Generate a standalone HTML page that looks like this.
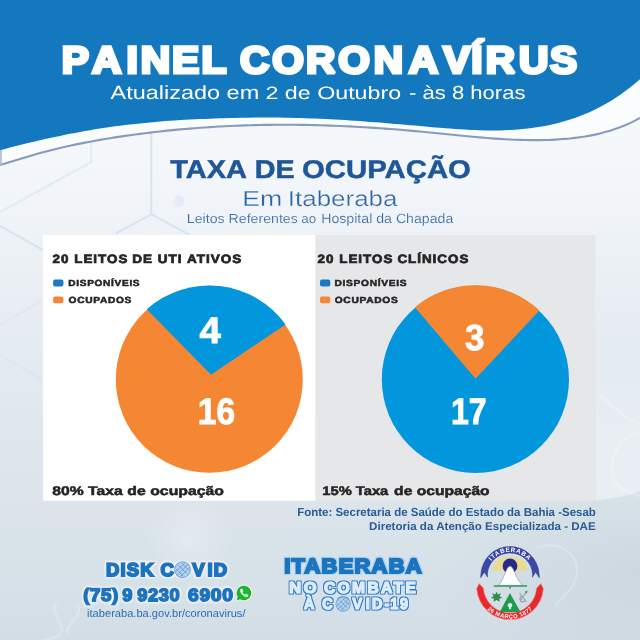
<!DOCTYPE html>
<html lang="pt-BR">
<head>
<meta charset="utf-8">
<title>Painel Coronavírus - Itaberaba</title>
<style>
html,body{margin:0;padding:0;width:640px;height:640px;overflow:hidden;background:#dfe6ee;}
svg{display:block;position:absolute;left:0;top:0;}
text{font-family:"Liberation Sans","DejaVu Sans",sans-serif;text-rendering:geometricPrecision;}
.hv{font-family:"DejaVu Sans","Liberation Sans",sans-serif;font-weight:bold;}
.b{font-weight:bold;}
</style>
</head>
<body>
<svg width="640" height="640" viewBox="0 0 640 640">
<defs>
<linearGradient id="bg" x1="0" y1="0" x2="0" y2="1">
<stop offset="0.2" stop-color="#f5f8fb"/>
<stop offset="0.31" stop-color="#f1f5f9"/>
<stop offset="0.47" stop-color="#e8eef3"/>
<stop offset="0.65" stop-color="#e0e8ee"/>
<stop offset="0.8" stop-color="#dae4ea"/>
<stop offset="0.96" stop-color="#d4dfe7"/>
<stop offset="1" stop-color="#d2dde5"/>
</linearGradient>
<radialGradient id="lft" cx="0.5" cy="0.5" r="0.5">
<stop offset="0" stop-color="#b4c2d0" stop-opacity="0.3"/>
<stop offset="1" stop-color="#b9c5d2" stop-opacity="0"/>
</radialGradient>
<linearGradient id="rfade" x1="0" y1="0" x2="0" y2="1">
<stop offset="0" stop-color="#eef3f7" stop-opacity="0"/>
<stop offset="0.6" stop-color="#eef3f7" stop-opacity="0.6"/>
<stop offset="1" stop-color="#eef3f7" stop-opacity="0.75"/>
</linearGradient>
<radialGradient id="rgt" cx="0.5" cy="0.5" r="0.5">
<stop offset="0" stop-color="#ffffff" stop-opacity="0.3"/>
<stop offset="1" stop-color="#ffffff" stop-opacity="0"/>
</radialGradient>
<filter id="glow" x="-10%" y="-30%" width="120%" height="160%">
<feMorphology in="SourceAlpha" operator="dilate" radius="1.4" result="d"/>
<feGaussianBlur in="d" stdDeviation="0.9" result="bl"/>
<feFlood flood-color="#f4fbff" flood-opacity="1"/>
<feComposite in2="bl" operator="in" result="g"/>
<feMerge><feMergeNode in="g"/><feMergeNode in="SourceGraphic"/></feMerge>
</filter>
<filter id="glowb" x="-10%" y="-30%" width="120%" height="160%">
<feMorphology in="SourceAlpha" operator="dilate" radius="0.6" result="d"/>
<feGaussianBlur in="d" stdDeviation="0.7" result="bl"/>
<feFlood flood-color="#a6d4f7" flood-opacity="0.8"/>
<feComposite in2="bl" operator="in" result="g"/>
<feMerge><feMergeNode in="g"/><feMergeNode in="SourceGraphic"/></feMerge>
</filter>
<filter id="outl" x="-10%" y="-30%" width="120%" height="160%">
<feMorphology in="SourceAlpha" operator="dilate" radius="1" result="d"/>
<feFlood flood-color="#2a7bcb"/>
<feComposite in2="d" operator="in" result="g"/>
<feMerge><feMergeNode in="g"/><feMergeNode in="SourceGraphic"/></feMerge>
</filter>
<g id="virus">
<circle r="8.3" fill="#b4d0ec"/>
<g fill="none" stroke="#4a8dcd" stroke-width="0.65">
<circle r="7.9"/>
<path d="M-5.6,5.6 L5.6,-5.6 M-6.8,2.2 L2.2,-6.8 M-2.2,6.8 L6.8,-2.2 M-4,-4.4 L4.4,4 M-6.4,-0.6 L0.6,6.4 M-0.6,-6.4 L6.4,0.6"/>
</g>
</g>
</defs>
<rect width="640" height="640" fill="url(#bg)"/>
<ellipse cx="650" cy="570" rx="230" ry="110" fill="url(#lft)"/>
<path d="M596,340 H640 V491 C626,496 612,499 596,500.5 Z" fill="url(#rfade)"/>
<g fill="none" stroke="#d3e1ee" stroke-width="2.2" opacity="0.8">
<path d="M151.3,128 V214.4 L115.6,233.5 M151.3,214.4 L190,235"/>
<path d="M91.3,142 V162 L0,212" opacity="0.6"/>
<path d="M0,226 L43,250" />
<path d="M43,300 L0,325 M0,355 L43,380" opacity="0.5"/>
</g>
<circle cx="178.8" cy="201.3" r="6" fill="#e2eaf4" opacity="0.8"/>
<g fill="none" stroke="#ffffff" stroke-linecap="round" opacity="0.22">
<path d="M56,603 C50,614 63,622 62,631 C61,637 50,639 42,641" stroke-width="2.6"/>
<path d="M78,605 C83,615 68,622 67,633" stroke-width="2.6"/>
<path d="M538,548 C556,540 578,552 577,572 C576,590 560,596 556,606" stroke-width="2.4"/>
<path d="M600,396 C612,404 622,418 640,424 M640,432 C622,436 612,452 612,470 C612,482 622,492 640,496" stroke-width="3"/>
</g>
<circle cx="190" cy="538" r="46" fill="url(#rgt)"/>

<!-- header -->
<path d="M640,0 H0 L0,165.1 L5,163.6 L10,162.0 L15,160.4 L20,158.9 L25,157.4 L30,155.9 L35,154.5 L40,153.1 L45,151.7 L50,150.4 L55,149.2 L60,148.0 L65,146.8 L70,145.7 L75,144.6 L80,143.6 L85,142.6 L90,141.7 L95,140.7 L100,139.9 L105,139.0 L110,138.2 L115,137.4 L120,136.6 L125,135.9 L130,135.2 L135,134.5 L140,133.9 L145,133.2 L150,132.6 L155,132.0 L160,131.5 L165,130.9 L170,130.4 L175,129.9 L180,129.4 L185,129.0 L190,128.6 L195,128.2 L200,127.8 L205,127.5 L210,127.1 L215,126.8 L220,126.5 L225,126.3 L230,126.0 L235,125.8 L240,125.6 L245,125.4 L250,125.3 L255,125.1 L260,125.0 L265,124.9 L270,124.9 L275,124.8 L280,124.8 L285,124.8 L290,124.8 L295,124.8 L300,124.9 L305,124.9 L310,125.0 L315,125.1 L320,125.3 L325,125.4 L330,125.6 L335,125.8 L340,126.0 L345,126.2 L350,126.4 L355,126.7 L360,127.0 L365,127.2 L370,127.6 L375,127.9 L380,128.2 L385,128.6 L390,129.0 L395,129.3 L400,129.8 L405,130.2 L410,130.6 L415,131.1 L420,131.5 L425,132.0 L430,132.5 L435,133.0 L440,133.5 L445,134.0 L450,134.5 L455,135.0 L460,135.5 L465,136.0 L470,136.5 L475,137.0 L480,137.4 L485,137.8 L490,138.2 L495,138.6 L500,138.9 L505,139.2 L510,139.5 L515,139.7 L520,139.9 L525,140.0 L530,140.1 L535,140.1 L540,140.1 L545,140.0 L550,139.9 L555,139.6 L560,139.3 L565,138.9 L570,138.5 L575,137.9 L580,137.2 L585,136.5 L590,135.6 L595,134.6 L600,133.4 L605,132.1 L610,130.7 L615,129.1 L620,127.3 L625,125.3 L630,123.1 L635,120.6 L640,117.8 Z" fill="#fbfcfe"/>
<path d="M0,165.1 L5,163.6 L10,162.0 L15,160.4 L20,158.9 L25,157.4 L30,155.9 L35,154.5 L40,153.1 L45,151.7 L50,150.4 L55,149.2 L60,148.0 L65,146.8 L70,145.7 L75,144.6 L80,143.6 L85,142.6 L90,141.7 L95,140.7 L100,139.9 L105,139.0 L110,138.2 L115,137.4 L120,136.6 L125,135.9 L130,135.2 L135,134.5 L140,133.9 L145,133.2 L150,132.6 L155,132.0 L160,131.5 L165,130.9 L170,130.4 L175,129.9 L180,129.4 L185,129.0 L190,128.6 L195,128.2 L200,127.8 L205,127.5 L210,127.1 L215,126.8 L220,126.5 L225,126.3 L230,126.0 L235,125.8 L240,125.6 L245,125.4 L250,125.3 L255,125.1 L260,125.0 L265,124.9 L270,124.9 L275,124.8 L280,124.8 L285,124.8 L290,124.8 L295,124.8 L300,124.9 L305,124.9 L310,125.0 L315,125.1 L320,125.3 L325,125.4 L330,125.6 L335,125.8 L340,126.0 L345,126.2 L350,126.4 L355,126.7 L360,127.0 L365,127.2 L370,127.6 L375,127.9 L380,128.2 L385,128.6 L390,129.0 L395,129.3 L400,129.8 L405,130.2 L410,130.6 L415,131.1 L420,131.5 L425,132.0 L430,132.5 L435,133.0 L440,133.5 L445,134.0 L450,134.5 L455,135.0 L460,135.5 L465,136.0 L470,136.5 L475,137.0 L480,137.4 L485,137.8 L490,138.2 L495,138.6 L500,138.9 L505,139.2 L510,139.5 L515,139.7 L520,139.9 L525,140.0 L530,140.1 L535,140.1 L540,140.1 L545,140.0 L550,139.9 L555,139.6 L560,139.3 L565,138.9 L570,138.5 L575,137.9 L580,137.2 L585,136.5 L590,135.6 L595,134.6 L600,133.4 L605,132.1 L610,130.7 L615,129.1 L620,127.3 L625,125.3 L630,123.1 L635,120.6 L640,117.8" fill="none" stroke="#889cba" stroke-width="2.1"/>
<path d="M1,150 V165" stroke="#a9b9cf" stroke-width="1.6" fill="none"/>
<path d="M640,0 H0 L0,150.3 L5,148.9 L10,147.6 L15,146.3 L20,145.1 L25,143.8 L30,142.6 L35,141.4 L40,140.2 L45,139.1 L50,138.0 L55,136.9 L60,135.9 L65,134.8 L70,133.8 L75,132.9 L80,131.9 L85,131.0 L90,130.2 L95,129.3 L100,128.5 L105,127.8 L110,127.0 L115,126.3 L120,125.7 L125,125.1 L130,124.5 L135,123.9 L140,123.4 L145,122.9 L150,122.4 L155,121.9 L160,121.5 L165,121.1 L170,120.8 L175,120.4 L180,120.1 L185,119.8 L190,119.5 L195,119.3 L200,119.1 L205,118.9 L210,118.7 L215,118.5 L220,118.3 L225,118.2 L230,118.0 L235,117.9 L240,117.8 L245,117.7 L250,117.7 L255,117.6 L260,117.6 L265,117.6 L270,117.6 L275,117.6 L280,117.6 L285,117.7 L290,117.8 L295,117.9 L300,118.0 L305,118.2 L310,118.4 L315,118.6 L320,118.8 L325,119.0 L330,119.3 L335,119.5 L340,119.8 L345,120.1 L350,120.4 L355,120.8 L360,121.1 L365,121.5 L370,121.9 L375,122.2 L380,122.6 L385,123.0 L390,123.5 L395,123.9 L400,124.3 L405,124.7 L410,125.2 L415,125.6 L420,126.1 L425,126.5 L430,127.0 L435,127.4 L440,127.8 L445,128.2 L450,128.6 L455,129.0 L460,129.3 L465,129.6 L470,129.9 L475,130.1 L480,130.3 L485,130.4 L490,130.4 L495,130.4 L500,130.4 L505,130.2 L510,130.0 L515,129.7 L520,129.3 L525,128.8 L530,128.3 L535,127.6 L540,126.8 L545,125.9 L550,124.9 L555,123.8 L560,122.5 L565,121.1 L570,119.6 L575,117.9 L580,116.1 L585,114.1 L590,111.9 L595,109.5 L600,107.0 L605,104.3 L610,101.4 L615,98.2 L620,94.9 L625,91.3 L630,87.5 L635,83.5 L640,79.3 Z" fill="#1478be"/>
<text class="b" transform="translate(63.00,0) scale(1.0752,1)" x="-1.18 27.02 59.14 72.34 101.45 128.87" y="73.10" font-size="37.94" fill="#fff" stroke="#fff" stroke-width="3.2" stroke-linejoin="miter" stroke-miterlimit="2">PAINEL</text>
<text class="b" transform="translate(240.00,0) scale(1.0713,1)" x="0.04 30.07 61.54 91.68 124.88 157.43 189.79 215.98 229.33 260.52 289.44" y="73.10" font-size="37.94" fill="#fff" stroke="#fff" stroke-width="3.2" stroke-linejoin="miter" stroke-miterlimit="2">CORONAVÍRUS</text>
<text x="110.55" y="99.22" font-size="19.11" fill="#fff" textLength="148.67" lengthAdjust="spacingAndGlyphs">Atualizado em</text>
<text x="265.48" y="99.00" font-size="17.92" fill="#fff" textLength="135.63" lengthAdjust="spacingAndGlyphs">2 de Outubro</text>
<text x="409.08" y="98.99" font-size="18.83" fill="#fff" textLength="116.39" lengthAdjust="spacingAndGlyphs">- às 8 horas</text>
<!-- section title -->
<text class="b" x="170.22" y="178.15" font-size="25.71" fill="#1e5799" stroke="#1e5799" stroke-width="0.5" stroke-linejoin="miter" textLength="76.69" lengthAdjust="spacingAndGlyphs">TAXA</text>
<text class="b" x="254.67" y="178.15" font-size="25.78" fill="#1e5799" stroke="#1e5799" stroke-width="0.5" stroke-linejoin="miter" textLength="39.88" lengthAdjust="spacingAndGlyphs">DE</text>
<text class="b" x="302.07" y="178.15" font-size="25.61" fill="#1e5799" stroke="#1e5799" stroke-width="0.5" stroke-linejoin="miter" textLength="168.88" lengthAdjust="spacingAndGlyphs">OCUPAÇÃO</text>
<text x="242.28" y="206.30" font-size="21.72" fill="#2b65a3" textLength="40.01" lengthAdjust="spacingAndGlyphs" stroke="#f3f6f9" stroke-width="0.3">Em</text>
<text x="287.85" y="206.30" font-size="21.70" fill="#2b65a3" textLength="109.59" lengthAdjust="spacingAndGlyphs" stroke="#f3f6f9" stroke-width="0.3">Itaberaba</text>
<text x="186.83" y="222.90" font-size="13.17" fill="#3f6fa5" textLength="110.97" lengthAdjust="spacingAndGlyphs" stroke="#f2f5f8" stroke-width="0.12">Leitos Referentes</text>
<text x="301.35" y="222.90" font-size="12.93" fill="#3f6fa5" textLength="15.02" lengthAdjust="spacingAndGlyphs" stroke="#f2f5f8" stroke-width="0.12">ao</text>
<text x="321.17" y="223.01" font-size="13.44" fill="#3f6fa5" textLength="132.19" lengthAdjust="spacingAndGlyphs" stroke="#f2f5f8" stroke-width="0.12">Hospital da Chapada</text>
<!-- panels -->
<rect x="43" y="235" width="272.5" height="265.8" fill="#ffffff"/>
<rect x="315.5" y="235" width="280" height="265.8" fill="#e6e7e9"/>
<!-- panel 1 -->
<rect x="53.1" y="279.6" width="10.3" height="6.8" rx="2" fill="#177bc8"/>
<rect x="53.1" y="296.4" width="10.3" height="6.8" rx="2" fill="#f58634"/>
<circle cx="209.3" cy="379.35" r="93.5" fill="#f58634"/>
<path d="M211,374.8 L146.8,309.3 A93.9,93.9 0 0 1 285.5,324.4 Z" fill="#0297dd"/>
<text class="b" letter-spacing="0.9" x="52.63" y="262.65" font-size="12.09" fill="#262324" stroke="#262324" stroke-width="0.7" stroke-linejoin="miter" textLength="75.69" lengthAdjust="spacingAndGlyphs">20 LEITOS</text>
<text class="b" letter-spacing="0.9" x="132.19" y="262.65" font-size="12.09" fill="#262324" stroke="#262324" stroke-width="0.7" stroke-linejoin="miter" textLength="110.20" lengthAdjust="spacingAndGlyphs">DE UTI ATIVOS</text>
<text class="b" letter-spacing="0.6" x="68.27" y="286.15" font-size="8.84" fill="#262324" stroke="#262324" stroke-width="0.5" stroke-linejoin="miter" textLength="72.04" lengthAdjust="spacingAndGlyphs">DISPONÍVEIS</text>
<text class="b" letter-spacing="0.6" x="68.59" y="302.95" font-size="8.84" fill="#262324" stroke="#262324" stroke-width="0.5" stroke-linejoin="miter" textLength="63.47" lengthAdjust="spacingAndGlyphs">OCUPADOS</text>
<text class="b" x="199.62" y="342.61" font-size="36.90" fill="#fff" stroke="#fff" stroke-width="0.9" stroke-linejoin="miter" textLength="21.36" lengthAdjust="spacingAndGlyphs">4</text>
<text class="b" x="197.68" y="423.51" font-size="36.93" fill="#fff" stroke="#fff" stroke-width="0.9" stroke-linejoin="miter" textLength="37.44" lengthAdjust="spacingAndGlyphs">16</text>
<text class="b" x="52.32" y="494.75" font-size="12.55" fill="#262324" stroke="#262324" stroke-width="0.5" stroke-linejoin="miter" textLength="70.40" lengthAdjust="spacingAndGlyphs">80% Taxa</text>
<text class="b" x="127.38" y="494.75" font-size="12.56" fill="#262324" stroke="#262324" stroke-width="0.5" stroke-linejoin="miter" textLength="96.56" lengthAdjust="spacingAndGlyphs">de ocupação</text>
<!-- panel 2 -->
<rect x="320" y="279.6" width="10.3" height="6.8" rx="2" fill="#177bc8"/>
<rect x="320" y="296.4" width="10.3" height="6.8" rx="2" fill="#f58634"/>
<circle cx="475.4" cy="379.35" r="93.6" fill="#0297dd"/>
<path d="M475.5,378.7 L415.0,307.3 A94.0,94.0 0 0 1 539.4,310.5 Z" fill="#f58634"/>
<text class="b" letter-spacing="0.9" x="317.63" y="262.65" font-size="12.09" fill="#262324" stroke="#262324" stroke-width="0.7" stroke-linejoin="miter" textLength="75.69" lengthAdjust="spacingAndGlyphs">20 LEITOS</text>
<text class="b" letter-spacing="0.9" x="397.41" y="262.65" font-size="12.09" fill="#262324" stroke="#262324" stroke-width="0.7" stroke-linejoin="miter" textLength="71.93" lengthAdjust="spacingAndGlyphs">CLÍNICOS</text>
<text class="b" letter-spacing="0.6" x="334.51" y="286.15" font-size="8.84" fill="#262324" stroke="#262324" stroke-width="0.5" stroke-linejoin="miter" textLength="72.74" lengthAdjust="spacingAndGlyphs">DISPONÍVEIS</text>
<text class="b" letter-spacing="0.6" x="334.72" y="302.95" font-size="8.84" fill="#262324" stroke="#262324" stroke-width="0.5" stroke-linejoin="miter" textLength="63.67" lengthAdjust="spacingAndGlyphs">OCUPADOS</text>
<text class="b" x="465.00" y="350.47" font-size="36.34" fill="#fff" stroke="#fff" stroke-width="0.9" stroke-linejoin="miter" textLength="19.52" lengthAdjust="spacingAndGlyphs">3</text>
<text class="b" x="450.90" y="423.51" font-size="36.93" fill="#fff" stroke="#fff" stroke-width="0.9" stroke-linejoin="miter" textLength="35.69" lengthAdjust="spacingAndGlyphs">17</text>
<text class="b" x="322.38" y="494.75" font-size="12.53" fill="#262324" stroke="#262324" stroke-width="0.5" stroke-linejoin="miter" textLength="65.84" lengthAdjust="spacingAndGlyphs">15% Taxa</text>
<text class="b" x="394.13" y="494.75" font-size="12.58" fill="#262324" stroke="#262324" stroke-width="0.5" stroke-linejoin="miter" textLength="95.55" lengthAdjust="spacingAndGlyphs">de ocupação</text>
<!-- source -->
<text class="b" x="297.20" y="515.66" font-size="11.72" fill="#295b96" textLength="298.63" lengthAdjust="spacingAndGlyphs">Fonte: Secretaria de Saúde do Estado da Bahia -Sesab</text>
<text class="b" x="369.07" y="530.20" font-size="11.34" fill="#295b96" textLength="226.62" lengthAdjust="spacingAndGlyphs">Diretoria da Atenção Especializada - DAE</text>
<!-- footer: disk covid -->
<text class="b" letter-spacing="1.1" x="105.97" y="575.60" font-size="18.55" fill="#1a74be" stroke="#1a74be" stroke-width="2.1" stroke-linejoin="miter" textLength="48.80" lengthAdjust="spacingAndGlyphs" filter="url(#glow)">DISK</text>
<text class="b" letter-spacing="0.6" x="83.20" y="600.50" font-size="17.84" fill="#1a74be" stroke="#1a74be" stroke-width="1.8" stroke-linejoin="miter" textLength="35.68" lengthAdjust="spacingAndGlyphs" filter="url(#glow)">(75)</text>
<text class="b" x="122.24" y="600.50" font-size="17.84" fill="#1a74be" stroke="#1a74be" stroke-width="1.8" stroke-linejoin="miter" textLength="10.16" lengthAdjust="spacingAndGlyphs" filter="url(#glow)">9</text>
<text class="b" letter-spacing="0.6" x="137.23" y="600.50" font-size="17.84" fill="#1a74be" stroke="#1a74be" stroke-width="1.8" stroke-linejoin="miter" textLength="43.13" lengthAdjust="spacingAndGlyphs" filter="url(#glow)">9230</text>
<text class="b" letter-spacing="0.6" x="188.06" y="600.50" font-size="17.84" fill="#1a74be" stroke="#1a74be" stroke-width="1.8" stroke-linejoin="miter" textLength="45.49" lengthAdjust="spacingAndGlyphs" filter="url(#glow)">6900</text>
<text x="87.06" y="616.82" font-size="11.13" fill="#2a6db5" textLength="158.44" lengthAdjust="spacingAndGlyphs">itaberaba.ba.gov.br/coronavirus/</text>
<text class="b" transform="translate(160.40,0) scale(1.0118,1)" x="-0.02 14.73 31.55 46.58 52.71" y="575.55" font-size="18.31" fill="#1a74be" stroke="#1a74be" stroke-width="2.1" stroke-linejoin="miter" stroke-miterlimit="2" filter="url(#glow)">COVID</text>
<use href="#virus" x="182.5" y="569.7"/>
<g transform="translate(244,593)">
<path d="M0,-8.200 A8.200,8.200 0 1 1 -4.300,7 L-8.400,8.300 L-7.100,4.200 A8.200,8.200 0 0 1 0,-8.200 Z" fill="#e9fbe6" opacity="0.900"/>
<path d="M0,-7.300 A7.300,7.300 0 1 1 -3.900,6.200 L-7.200,7.200 L-6.200,3.900 A7.300,7.300 0 0 1 0,-7.300 Z" fill="#23a82f"/>
<circle r="6.300" fill="#1fb52f"/>
<path d="M-3.300,-3.700 C-4.200,-2.800 -3.200,0 -1.500,1.700 C0.200,3.400 2.900,4.300 3.800,3.400 C4.400,2.700 4.200,2.200 3.500,1.800 L2.300,1.200 C1.800,1 1.400,1.200 1.100,1.600 C0.900,1.900 0.600,1.900 0.200,1.700 C-0.700,1.200 -1.200,0.600 -1.600,-0.200 C-1.800,-0.600 -1.700,-0.900 -1.400,-1.100 C-1,-1.400 -0.900,-1.800 -1.100,-2.300 L-1.700,-3.500 C-2.100,-4.200 -2.700,-4.300 -3.300,-3.700 Z" fill="#f4fff0" stroke="#f4fff0" stroke-width="0.500"/>
</g>

<!-- footer: itaberaba no combate -->
<text class="b" letter-spacing="1.2" x="284.24" y="573.40" font-size="20.72" fill="#1a74be" stroke="#1a74be" stroke-width="2.2" stroke-linejoin="miter" textLength="138.52" lengthAdjust="spacingAndGlyphs" filter="url(#glowb)">ITABERABA</text>
<text class="b" letter-spacing="2.4" x="289.39" y="592.51" font-size="15.71" fill="#dcedfb" stroke="#dcedfb" stroke-width="1.2" stroke-linejoin="round" textLength="29.64" lengthAdjust="spacingAndGlyphs" filter="url(#outl)">NO</text>
<text class="b" letter-spacing="2.4" x="323.93" y="592.51" font-size="15.71" fill="#dcedfb" stroke="#dcedfb" stroke-width="1.2" stroke-linejoin="round" textLength="94.38" lengthAdjust="spacingAndGlyphs" filter="url(#outl)">COMBATE</text>
<text class="b" transform="translate(301.50,0) scale(0.9156,1)" x="2.75 14.09 22.76 39.23 55.66 70.13 77.09 90.78 96.83 107.58" y="609.00" font-size="15.70" fill="#dcedfb" stroke="#dcedfb" stroke-width="1.2" stroke-linejoin="round" stroke-miterlimit="2" filter="url(#outl)">À COVID-19</text>
<use href="#virus" transform="translate(343.1,604.2) scale(0.9)"/>
<!-- footer: coat of arms -->
<g id="arms">
<path d="M493,570.5 A17,13.6 0 0 1 527,570.5 Z" fill="#e9da8c"/>
<path d="M490.5,569 L495,566 M492,562 L497,561.5 M497,556.5 L500,559.5 M523,556.5 L520,559.5 M528,562 L523,561.5 M529.5,569 L525,566" stroke="#e9da8c" stroke-width="1.2" fill="none"/>
<path d="M480.67,577.65 L480.94,574.08 A29.1,29.1 0 0 1 539.06,574.08 L539.33,577.65 L535.65,572.00 L532.35,577.16 L532.67,574.41 A22.7,22.7 0 0 0 487.33,574.41 L487.65,577.16 L484.35,572.00 Z" fill="#3c48a7" stroke="#2a2e85" stroke-width="0.5" stroke-linejoin="round"/>
<path id="arc1" d="M486.20,575.60 A23.8,23.8 0 0 1 533.80,575.60" fill="none"/>
<text font-size="6.2" class="b" fill="#ffffff" letter-spacing="0.75" text-anchor="middle"><textPath href="#arc1" startOffset="50%">ITABERABA</textPath></text>
<circle cx="510" cy="566" r="7.4" fill="#27298c"/>
<path d="M498.6,585.3 C502,581.5 504.5,575 506.6,569.6 Q510,562.6 513.4,569.6 C515.5,575 518.5,581.5 522.6,585.3 Z" fill="#ffffff" stroke="#7a828e" stroke-width="0.5"/>
<path d="M493.9,586 H527.1" stroke="#2f9a55" stroke-width="1.4" fill="none"/>
<path d="M508.8,587 L510,589 L511.200,587 Z" fill="#6b7380"/>
<path d="M476.58,588.54 A33.5,33.5 0 0 0 543.42,588.54 L540.93,583.49 L536.54,588.06 A26.6,26.6 0 0 1 483.46,588.06 L479.07,583.49 Z" fill="#e5292d" stroke="#f3a09a" stroke-width="0.6" stroke-linejoin="round"/>
<path id="arc2" d="M477.70,586.20 A32.3,32.3 0 0 0 542.30,586.20" fill="none"/>
<text font-size="5.8" class="b" fill="#ffffff" letter-spacing="0.45" text-anchor="middle"><textPath href="#arc2" startOffset="50%">26 MARÇO 1877</textPath></text>
<path d="M509.9,593 L520.6,611.9 H499.8 Z" fill="#1e9b4c"/>
<circle cx="510" cy="605.3" r="2.2" fill="#e9f3ea"/>
<path d="M509,607 h2 v2.2 h-2 Z" fill="#e9f3ea"/>
<path d="M496.6,591.8 l1.4,2.8 l3,-1.4 l-1.4,3 l3,1.7 l-3.4,0.6 l0.5,3.300 l-3.1,-1.900 l-3.1,1.900 l0.500,-3.300 l-3.400,-0.600 l3,-1.700 l-1.400,-3 l3,1.400 Z" fill="#2c8f4b"/>
<path d="M519.500,593 l7,9 M526,592.500 l-6,8.500 M522,596 a2.500,3 0 1 0 3,3" stroke="#97a0a8" stroke-width="1.1" fill="none"/>
<path d="M524.5,592 l3,-1.5 l-0.5,3 Z" fill="#2e9a50"/>
</g>
</svg>
</body>
</html>
